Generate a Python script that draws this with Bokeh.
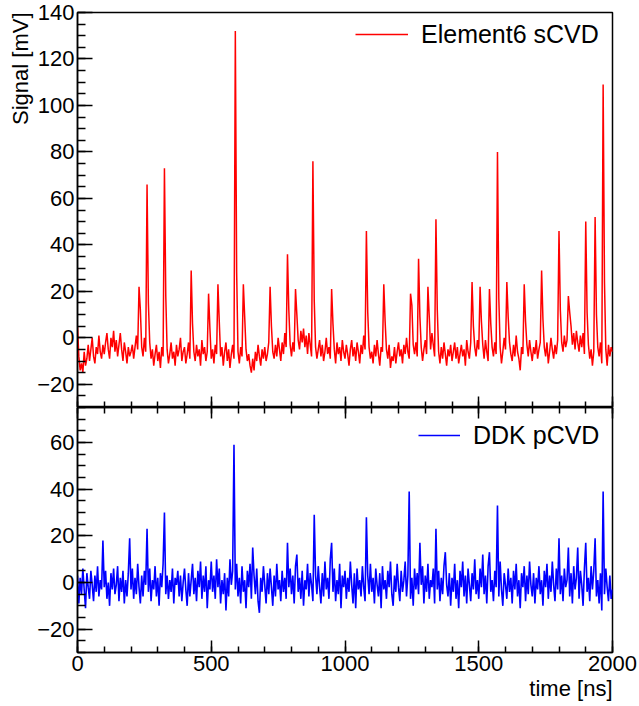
from bokeh.plotting import figure
from bokeh.layouts import column
from bokeh.models import (LinearAxis, SingleIntervalTicker, Range1d, Legend,
                          LegendItem, Title, CustomLabelingPolicy)
from bokeh.embed import file_html
from bokeh.resources import INLINE

FONT = "Liberation Sans"

# sampling step of the scope traces [ns]
t_step = 5

# Element6 sCVD signal [mV], one value every 5 ns from 0 to 2000 ns
sig_e6 = [
    5, -8, -14, -11, -15, -6, -12, -9, -3, -10, -5, 0, -8, -11, -4, -7, 1, -6, -9, -3,
    -7, -2, 2, -5, -9, 0, -4, 3, -6, -1, -8, -3, 2, -5, -10, -2, -6, -11, -4, -8,
    -6, -3, -9, -4, 1, -5, 22, 12, -4, -8, 0, -6, 66, 15, -2, -9, -5, -12, -7, -3,
    -10, -6, -13, -4, -8, 73, 18, -5, -11, -7, -2, -9, -6, -12, -3, -8, -5, 0, -10, -6,
    -4, -11, -7, -2, -9, 29, 6, -6, -10, -3, -8, -5, -12, -1, -7, -4, -10, -6, 19, 4,
    -9, -5, -11, -3, -7, 23, 7, -8, -4, -12, -6, -2, -10, -5, -13, -7, -3, -9, 132, 28,
    -6, -11, -4, -8, 23, 9, -5, -10, -7, -12, -15, -9, -14, -6, -10, -3, -8, -12, -5, -9,
    -4, -10, -7, -2, 22, 5, -6, -9, -3, -8, 0, -5, -10, -2, -7, 2, -4, 36, 12, -3,
    -8, -2, -6, 21, 10, -1, -5, 3, -2, 4, -4, 1, -7, 2, -3, -8, 76, 16, -4, -9,
    -5, -1, -8, -3, -10, -6, 0, -7, -4, -9, 21, 6, -5, -11, -2, -7, -4, -10, -1, -6,
    -9, -3, -7, -12, -5, -1, -8, -4, -10, -2, -6, -11, -3, -7, 1, -5, 46, 11, -4, -9,
    -6, -11, -3, -8, -1, -7, -12, -4, -6, 23, 7, -5, -9, -3, -13, -8, -10, -4, -11, -6,
    -2, -8, -5, -11, -3, -7, 0, -6, -9, 19, 14, -3, -7, -2, -8, 34, 9, -4, -10, -5,
    -1, -7, 22, 9, -5, 2, -3, -8, 51, 12, -6, -11, -4, -9, -2, -7, -12, -5, -8, -3,
    -10, -6, -2, -9, -4, -11, -7, -3, -8, -5, -12, -1, -6, -9, -2, 24, 5, -4, -8, -1,
    -5, 22, 7, -3, -9, -1, -6, -10, 21, 6, -4, -8, -2, -7, 80, 17, -4, -11, -6, 0,
    -5, 24, 9, -2, -7, -10, -3, -8, 1, -6, -9, -14, -4, -7, 23, 7, -3, -8, -1, -6,
    -10, -4, -7, -1, -9, -5, -2, 29, 8, -4, -8, -2, -11, -6, 0, -5, -9, -3, -7, -1,
    46, 12, -2, -6, 1, -4, -1, 18, 11, 5, -3, 2, -5, 3, -2, -6, 1, -4, 2, -7,
    50, 11, -3, -9, -5, -12, -6, 52, 10, -4, -8, -2, -11, 109, 24, -5, -12, -3, -8, -4,
    -6,
]

# DDK pCVD signal [mV], same sampling
sig_ddk = [
    3, -9, 2, -5, 6, -3, -11, 4, -2, -7, 5, -1, -8, 3, -4, 7, -6, 1, -3, 18,
    -2, 5, -7, 0, -10, 4, -3, 6, -5, -1, 7, -8, 2, -4, 5, -9, 1, -6, 4, 19,
    -3, 6, -7, 2, -5, 8, -2, -9, 3, -6, 5, -1, 23, -4, 6, -8, 1, -3, 7, -6,
    2, -10, 4, -2, 8, 30, -5, 3, -7, 1, -4, 6, -9, 2, -1, 5, -6, 3, -8, 0,
    6, -3, -10, 4, -6, 1, 8, -5, 2, -8, 5, -2, 9, -7, 3, -4, 7, -11, 1, -3,
    9, -4, 3, -7, 10, -2, 6, -9, 1, -5, 4, -12, 2, -6, 10, -1, 5, 59, -3, 8,
    -6, 2, -9, 7, -4, 1, -11, 5, -2, 8, -7, 15, 3, -5, 6, -8, -13, 2, -4, 7,
    -1, -9, 4, -5, 6, -2, -10, 3, -6, 8, -3, 1, -8, 5, -4, 2, -7, 17, -2, 6,
    -5, 3, -9, 7, 12, -4, 2, -7, 5, -10, 1, -3, 8, -6, 4, -1, -8, 29, 3, -5,
    7, -2, -9, 4, -6, 9, -3, 2, -7, 10, 17, -4, 6, -8, 1, -5, 8, -11, 3, -2,
    5, -7, 2, -4, 9, -1, -9, 4, -11, 6, -3, 1, -6, 7, -2, -8, 28, 3, -5, 8,
    -4, 2, -9, 6, -1, -6, 4, -11, 7, -3, 1, -7, 5, -2, 9, -5, -10, 3, -4, 8,
    -2, -8, 5, -4, 1, 9, -6, 3, 39, -7, 2, -10, 6, -3, 4, -5, 17, -1, 7, -9,
    3, -4, 8, -7, 1, -2, 6, -9, 23, -3, 5, -8, 2, -5, 7, 13, -1, -6, 4, -10,
    2, -4, 8, -7, 1, -11, 5, -2, 9, -6, 3, -9, 6, -1, -8, 4, -3, 10, -5, 1,
    -7, 6, -2, 12, -5, 3, -9, 7, 13, -4, 1, -8, 5, -2, 33, -6, 9, -3, -10, 4,
    -1, -7, 6, -4, 2, -9, 5, -3, 8, -6, 1, -11, 4, -2, 7, -8, 3, -5, 9, -1,
    -6, 4, -9, 2, -3, 7, -5, 1, -10, 5, -2, 8, -7, 3, -4, 9, -1, -8, 6, -3,
    19, -5, 3, -8, 6, -2, 1, 15, -6, 4, -9, 7, -3, 2, 15, -7, 5, -1, -10, 6,
    17, -4, 2, -8, 7, -3, 5, 19, -6, 1, -9, 4, -12, 39, -5, 6, -2, -8, 3, -7,
    -3,
]

time_ns = [i * t_step for i in range(len(sig_e6))]

# drops every tick label of an axis (only the tick marks are wanted)
NO_LABELS = """
for (const i of Array.from(indices)) {
    if (typeof indices.unset === "function") indices.unset(i)
    else indices.set(i, false)
}
return indices
"""


def y_axis(p):
    ax = LinearAxis(ticker=SingleIntervalTicker(interval=20, num_minor_ticks=4))
    ax.major_tick_in = 15
    ax.major_tick_out = 0
    ax.minor_tick_in = 8
    ax.minor_tick_out = 0
    ax.major_label_standoff = 3
    ax.major_label_text_font = FONT
    ax.major_label_text_font_size = "22px"
    ax.major_label_text_color = "black"
    ax.major_label_overrides = {-20: "\u221220"}
    ax.axis_line_width = 1.5
    ax.major_tick_line_width = 1.5
    ax.minor_tick_line_width = 1.5
    p.add_layout(ax, "left")


def x_axis(p, place, tick_len, labels):
    ax = LinearAxis(ticker=SingleIntervalTicker(interval=500, num_minor_ticks=5))
    ax.major_tick_in = tick_len
    ax.major_tick_out = 0
    ax.minor_tick_in = 6
    ax.minor_tick_out = 0
    ax.axis_line_width = 1.5
    ax.major_tick_line_width = 1.5
    ax.minor_tick_line_width = 1.5
    if labels:
        ax.major_label_standoff = 3
        ax.major_label_text_font = FONT
        ax.major_label_text_font_size = "22px"
        ax.major_label_text_color = "black"
    else:
        ax.major_label_standoff = 0
        ax.major_label_text_font_size = "0px"
        ax.major_label_policy = CustomLabelingPolicy(code=NO_LABELS)
    p.add_layout(ax, place)


def panel(h, y0, y1, top, bottom):
    p = figure(frame_width=535, frame_height=h,
               x_range=Range1d(0, 2000), y_range=Range1d(y0, y1),
               x_axis_location=None, y_axis_location=None,
               output_backend="svg", toolbar_location=None,
               min_border_left=77, min_border_right=25,
               min_border_top=top, min_border_bottom=bottom)
    p.xgrid.visible = False
    p.ygrid.visible = False
    p.outline_line_color = "black"
    p.outline_line_width = 1.5
    return p


def legend(p, r, text, gw, loc):
    leg = Legend(items=[LegendItem(label=text, renderers=[r])], location=loc,
                 label_text_font=FONT, label_text_font_size="25px",
                 label_text_color="black",
                 glyph_width=gw, glyph_height=30, label_height=30,
                 label_standoff=13, padding=0, margin=0, spacing=0,
                 border_line_alpha=0, background_fill_alpha=0)
    p.add_layout(leg)


def axis_title(p, text, place, standoff):
    p.add_layout(Title(text=text, align="right", standoff=standoff,
                       text_font=FONT, text_font_size="22px",
                       text_font_style="normal", text_color="black"), place)


# top panel: Element6 sCVD
p1 = panel(395, -30, 140, 12, 0)
y_axis(p1)
axis_title(p1, "Signal [mV]", "left", 4)
x_axis(p1, "below", 11, False)
r1 = p1.line(time_ns, sig_e6, line_color="#ff0000", line_width=1.5)
legend(p1, r1, "Element6 sCVD", 53, (278, 358))

# bottom panel: DDK pCVD
p2 = panel(245, -30, 75, 0, 50)
y_axis(p2)
x_axis(p2, "above", 11, False)
x_axis(p2, "below", 12, True)
axis_title(p2, "time [ns]", "below", 0)
r2 = p2.line(time_ns, sig_ddk, line_color="#0000ff", line_width=1.6)
legend(p2, r2, "DDK pCVD", 42, (341, 202))

layout = column(p1, p2)
open("out.html", "w").write(file_html(layout, INLINE))
